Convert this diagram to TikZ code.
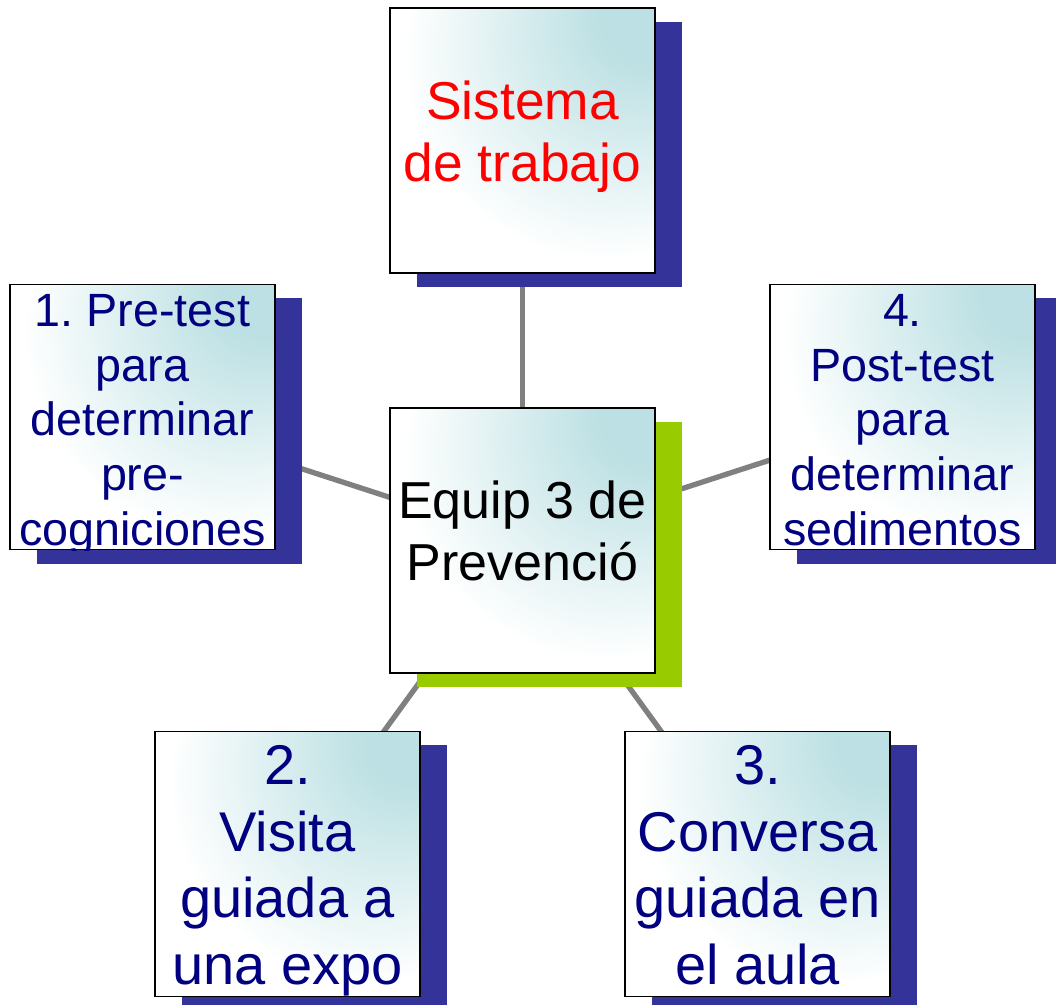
\documentclass[tikz,border=0pt]{standalone}
\usepackage{fontspec}
\setmainfont{Liberation Sans}
\usetikzlibrary{shadows, backgrounds}

\definecolor{boxteal}{HTML}{BCE0E3}
\definecolor{shadowblue}{HTML}{333399}
\definecolor{shadowgreen}{HTML}{99CC00}
\definecolor{textnavy}{HTML}{000080}
\definecolor{linegray}{HTML}{808080}

\pgfdeclareradialshading{cornerglow}{\pgfpoint{25bp}{25bp}}{color(0bp)=(boxteal); color(8bp)=(boxteal); color(38bp)=(white); color(100bp)=(white)}

\begin{document}
\frenchspacing
\begin{tikzpicture}[x=0.75pt, y=-0.75pt,
  card/.style={shade, shading=cornerglow, draw=black, line width=1.2pt, minimum size=199pt, inner sep=0pt},
  bluedrop/.style={drop shadow={shadow xshift=20.25pt, shadow yshift=-10.5pt, fill=shadowblue, opacity=1}},
  greendrop/.style={drop shadow={shadow xshift=20.25pt, shadow yshift=-10.5pt, fill=shadowgreen, opacity=1}},
  cardtext/.style={align=center, inner sep=0pt, anchor=north, text=textnavy},
  link/.style={draw=linegray, line width=4pt}]
  \useasboundingbox (0,0) rectangle (1056,1004);

  % boxes
  \node[card, bluedrop] (work) at (522.5,140.5) {};
  \node[card, greendrop] (team) at (522.5,540.5) {};
  \node[card, bluedrop] (pretest) at (142.5,417) {};
  \node[card, bluedrop] (posttest) at (902.5,417) {};
  \node[card, bluedrop] (visit) at (287.5,864) {};
  \node[card, bluedrop] (talk) at (757.5,864) {};

  % links behind everything
  \begin{scope}[on background layer]
    \foreach \n in {work, pretest, posttest, visit, talk}
      \draw[link] (team.center) -- (\n.center);
  \end{scope}

  % texts
  \node[cardtext, text=red, font={\fontsize{40}{46}\selectfont}] (worktxt) at (522.5,81) {Sistema\\de trabajo};
  \node[cardtext, text=black, font={\fontsize{39}{46.5}\selectfont}] (teamtxt) at (522.5,481) {Equip 3 de\\Prevenció};
  \begin{scope}
    \clip (pretest.south west) rectangle (pretest.north east);
    \node[cardtext, font={\fontsize{35}{41}\selectfont}] (pretxt) at (142.5,294) {1. Pre-test\\para\\determinar\\pre-\\cogniciones};
  \end{scope}
  \begin{scope}
    \clip (posttest.south west) rectangle (posttest.north east);
    \node[cardtext, font={\fontsize{35}{41}\selectfont}] (posttxt) at (902.5,294) {4.\\Post-test\\para\\determinar\\sedimentos};
  \end{scope}
  \begin{scope}
    \clip (visit.south west) rectangle (visit.north east);
    \node[cardtext, font={\fontsize{42}{50}\selectfont}] (visittxt) at (287.5,745) {2.\\Visita\\guiada a\\una expo};
  \end{scope}
  \begin{scope}
    \clip (talk.south west) rectangle (talk.north east);
    \node[cardtext, font={\fontsize{42}{50}\selectfont}] (talktxt) at (757.5,745) {3.\\Conversa\\guiada en\\el aula};
  \end{scope}
\end{tikzpicture}
\end{document}
